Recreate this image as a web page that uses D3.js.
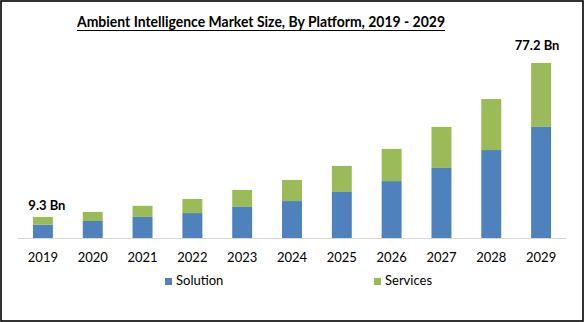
<!DOCTYPE html>
<html>
<head>
<meta charset="utf-8">
<script src="https://cdn.jsdelivr.net/npm/d3@7"></script>
<style>
  html, body { margin: 0; padding: 0; background: #fff; }
  svg { display: block; font-family: Lato, "Open Sans", sans-serif; }
</style>
</head>
<body>
<svg id="chart" width="584" height="322"></svg>
<script>
// Market size in USD billions, split by platform
const years = ["2019", "2020", "2021", "2022", "2023", "2024", "2025", "2026", "2027", "2028", "2029"];
const solution = [5.9, 7.5, 9.3, 11.0, 13.7, 16.3, 20.3, 25.1, 30.9, 38.8, 49.0];
const services = [3.4, 4.0, 4.9, 6.2, 7.5, 9.3, 11.5, 14.2, 18.1, 22.5, 28.2];
const seriesNames = ["Solution", "Services"];
const seriesColors = ["#4f81bd", "#9bbb59"];
// Totals called out above the first and last bars
const callouts = [
  { year: "2019", text: "9.3 Bn", gap: 7, dx: 4 },
  { year: "2029", text: "77.2 Bn", gap: 13, dx: -4 }
];

const W = 584, H = 322;
const svg = d3.select("#chart");

// Outer frame
svg.append("rect")
  .attr("x", 1).attr("y", 1).attr("width", W - 2).attr("height", H - 2)
  .attr("fill", "#fff").attr("stroke", "#000").attr("stroke-width", 1.6);

// Title, underlined
const title = svg.append("text")
  .attr("x", 261).attr("y", 27)
  .attr("text-anchor", "middle")
  .attr("font-size", 16).attr("font-weight", 700).attr("fill", "#000")
  .attr("textLength", 368).attr("lengthAdjust", "spacingAndGlyphs")
  .text("Ambient Intelligence Market Size, By Platform, 2019 - 2029");
svg.append("line")
  .attr("x1", 261 - 184).attr("x2", 261 + 184)
  .attr("y1", 30.5).attr("y2", 30.5)
  .attr("stroke", "#000").attr("stroke-width", 1.2);

// Scales
const x = d3.scaleBand().domain(years).range([18, 566]).paddingInner(0.6).paddingOuter(0.3);
const totals = years.map((_, i) => solution[i] + services[i]);
const y = d3.scaleLinear().domain([0, 77.2]).range([238, 63]);

// Stack the two series
const rows = years.map((yr, i) => ({ year: yr, Solution: solution[i], Services: services[i] }));
const stacked = d3.stack().keys(seriesNames)(rows);

svg.append("g").selectAll("g")
  .data(stacked)
  .join("g")
  .attr("fill", (d, i) => seriesColors[i])
  .selectAll("rect")
  .data(d => d)
  .join("rect")
  .attr("x", d => x(d.data.year))
  .attr("width", x.bandwidth())
  .attr("y", d => y(d[1]))
  .attr("height", d => y(d[0]) - y(d[1]));

// Category axis
const axis = svg.append("g")
  .attr("transform", "translate(0,238)")
  .call(d3.axisBottom(x).tickSize(0).tickPadding(15));
axis.select(".domain").attr("stroke", "#d9d9d9").attr("stroke-width", 1)
  .attr("d", "M18,0.5H566");
axis.selectAll("text")
  .attr("font-family", "Lato, 'Open Sans', sans-serif")
  .attr("font-size", 13).attr("fill", "#000");

// Value callouts
svg.append("g").selectAll("text")
  .data(callouts)
  .join("text")
  .attr("x", d => x(d.year) + x.bandwidth() / 2 + d.dx)
  .attr("y", d => y(totals[years.indexOf(d.year)]) - d.gap)
  .attr("text-anchor", "middle")
  .attr("font-size", 13).attr("font-weight", 700).attr("fill", "#000")
  .text(d => d.text);

// Legend
const legendX = [165, 374];
const legend = svg.append("g").selectAll("g")
  .data(seriesNames)
  .join("g")
  .attr("transform", (d, i) => `translate(${legendX[i]},278)`);
legend.append("rect")
  .attr("width", 7).attr("height", 7)
  .attr("fill", (d, i) => seriesColors[i]);
legend.append("text")
  .attr("x", 11).attr("y", 7)
  .attr("font-size", 13).attr("fill", "#000")
  .text(d => d);
</script>
</body>
</html>
